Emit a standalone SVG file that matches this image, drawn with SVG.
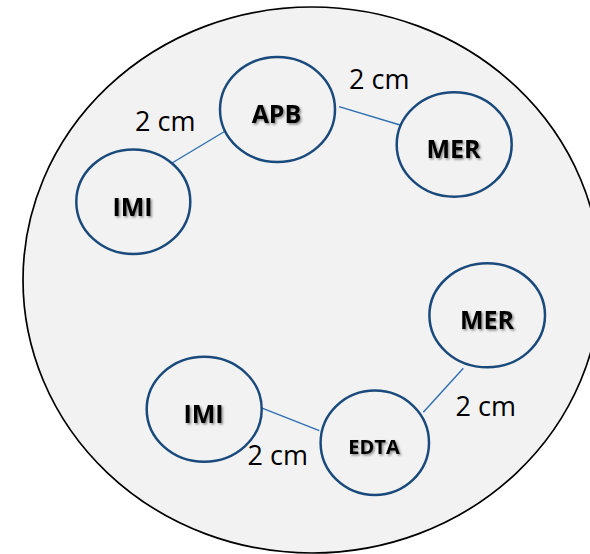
<svg xmlns="http://www.w3.org/2000/svg" width="590" height="554" viewBox="0 0 590 554">
<defs>
<filter id="sh" x="-20%" y="-30%" width="140%" height="160%">
<feDropShadow dx="1.5" dy="1.5" stdDeviation="1" flood-color="#000" flood-opacity="0.45"/>
</filter>
</defs>
<style>
.dish{fill:#f2f2f2;stroke:#000;stroke-width:1.7}
.node ellipse{fill:#f2f2f2;stroke:#1a4a7c;stroke-width:2.5}
.lbl{font-family:"Open Sans","Liberation Sans",Arial,sans-serif;font-weight:bold;fill:#000;text-anchor:middle;filter:url(#sh)}
.dist{font-family:"Open Sans","Liberation Sans",Arial,sans-serif;font-size:27px;fill:#000}
#connectors line{stroke:#2e6fb0;stroke-width:1.4}
</style>
<ellipse class="dish" cx="312" cy="280" rx="289" ry="273"/>
<g id="connectors">
<line x1="167" y1="166" x2="227" y2="130"/>
<line x1="339" y1="106.7" x2="400" y2="125"/>
<line x1="258.3" y1="406.7" x2="319.3" y2="430.7"/>
<line x1="423.3" y1="412.3" x2="463.3" y2="368.3"/>
</g>
<g id="node-APB" class="node">
<ellipse cx="277.5" cy="109.5" rx="57.5" ry="52.5"/>
<text class="lbl" x="276.5" y="123" font-size="25">APB</text>
</g>
<g id="node-MER-top" class="node">
<ellipse cx="454.2" cy="144.5" rx="57.5" ry="52.2"/>
<text class="lbl" x="453.5" y="158" font-size="25">MER</text>
</g>
<g id="node-IMI-top" class="node">
<ellipse cx="133.3" cy="201.7" rx="57" ry="52.3"/>
<text class="lbl" x="132.5" y="216" font-size="25">IMI</text>
</g>
<g id="node-MER-bottom" class="node">
<ellipse cx="487.2" cy="315.3" rx="57.8" ry="52"/>
<text class="lbl" x="487" y="328.5" font-size="25">MER</text>
</g>
<g id="node-IMI-bottom" class="node">
<ellipse cx="204.2" cy="409.2" rx="57.5" ry="52.5"/>
<text class="lbl" x="203.5" y="423" font-size="25">IMI</text>
</g>
<g id="node-EDTA" class="node">
<ellipse cx="374.8" cy="442.8" rx="54.2" ry="52.2"/>
<text class="lbl" x="374" y="454" font-size="20">EDTA</text>
</g>
<text class="dist" x="349" y="89">2 cm</text>
<text class="dist" x="135" y="131">2 cm</text>
<text class="dist" x="247.5" y="465">2 cm</text>
<text class="dist" x="455.5" y="416">2 cm</text>
</svg>
